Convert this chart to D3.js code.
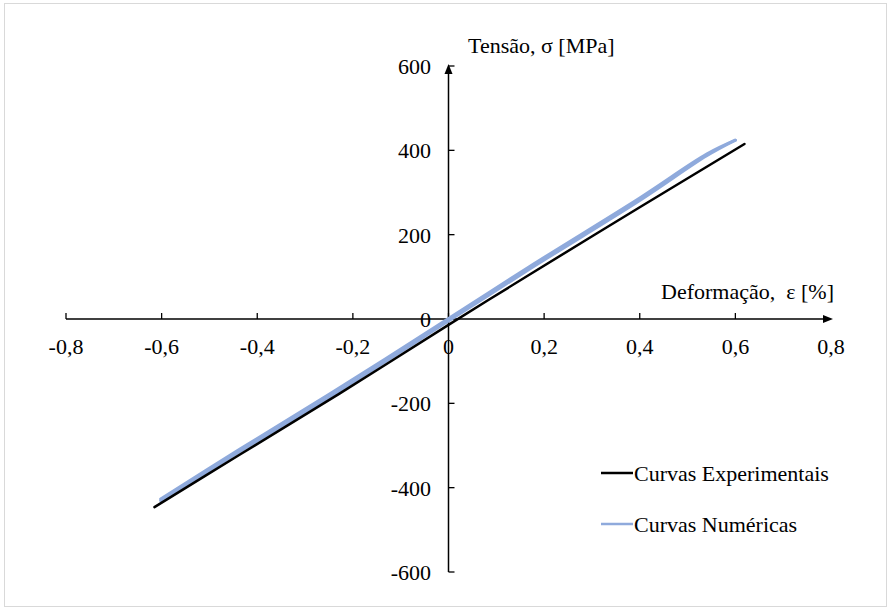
<!DOCTYPE html>
<html><head><meta charset="utf-8">
<script src="https://cdn.jsdelivr.net/npm/d3@7"></script>
<style>body{margin:0;background:#fff}svg{display:block}text{font-family:"Liberation Serif","Times New Roman",serif;fill:#000}</style>
</head><body><div id="chart"></div>
<script>
// ---- data ----
const xTicks = [-0.8,-0.6,-0.4,-0.2,0,0.2,0.4,0.6,0.8];
const xTickLabels = ["-0,8","-0,6","-0,4","-0,2","0","0,2","0,4","0,6","0,8"];
const yTicks = [-600,-400,-200,0,200,400,600];
const yTickLabels = ["-600","-400","-200","0","200","400","600"];
const expStrain = [-0.615,-0.437,-0.228,0,0.169,0.4,0.619];
const expStress = [-446,-322,-177,-14,105,265,415];
const numLoadStrain = [-0.602,-0.437,-0.228,0,0.169,0.4,0.54,0.6];
const numLoadStress = [-427,-309,-163,1,124,287,391,424];
const numUnloadStrain = [0.6,0.54,0.4,0.169,0,-0.228,-0.437,-0.602];
const numUnloadStress = [424,387,281,118,-5,-170,-315,-431];
const seriesNames = ["Curvas Experimentais","Curvas Numéricas"];
const colors = ["#000000","#8faadc"];

const W=891,H=611,FS=22;
const svg=d3.select("#chart").append("svg").attr("width",W).attr("height",H);
svg.append("rect").attr("x",4.5).attr("y",3.5).attr("width",882).attr("height",603)
  .attr("fill","#fff").attr("stroke","#d9d9d9").attr("stroke-width",1);

const x=d3.scaleLinear().domain([-0.8,0.8]).range([66,831]);
const y=d3.scaleLinear().domain([-600,600]).range([572,66]);

const x0=x(0), y0=y(0);
// x axis
svg.append("line").attr("x1",x(-0.8)).attr("x2",x(0.8)-4).attr("y1",y0).attr("y2",y0)
  .attr("stroke","#000").attr("stroke-width",1.5);
svg.append("path").attr("d",`M${x(0.8)+2},${y0} L${x(0.8)-8},${y0-4} L${x(0.8)-8},${y0+4} Z`).attr("fill","#000");
// y axis
svg.append("line").attr("x1",x0).attr("x2",x0).attr("y1",y(-600)).attr("y2",y(600)+4)
  .attr("stroke","#000").attr("stroke-width",1.5);
svg.append("path").attr("d",`M${x0},${y(600)-2} L${x0-4},${y(600)+8} L${x0+4},${y(600)+8} Z`).attr("fill","#000");

xTicks.forEach((t,i)=>{
  if(t!==0.8) svg.append("line").attr("x1",x(t)).attr("x2",x(t)).attr("y1",y0).attr("y2",y0-6).attr("stroke","#000").attr("stroke-width",1.3);
  svg.append("text").attr("x",x(t)).attr("y",y0+35).attr("text-anchor","middle").attr("font-size",FS).text(xTickLabels[i]);
});
yTicks.forEach((t,i)=>{
  svg.append("line").attr("x1",x0).attr("x2",x0+6).attr("y1",y(t)).attr("y2",y(t)).attr("stroke","#000").attr("stroke-width",1.3);
  svg.append("text").attr("x",431).attr("y",y(t)+8).attr("text-anchor","end").attr("font-size",FS).text(yTickLabels[i]);
});

svg.append("text").attr("x",468).attr("y",53).attr("font-size",FS).text("Tensão, σ [MPa]");
svg.append("text").attr("x",834).attr("y",299).attr("text-anchor","end").attr("font-size",FS).attr("xml:space","preserve").text("Deformação,  ε [%]");

const line=d3.line().x(d=>x(d[0])).y(d=>y(d[1])).curve(d3.curveCatmullRom);
const zip=(a,b)=>a.map((v,i)=>[v,b[i]]);
[[numLoadStrain,numLoadStress],[numUnloadStrain,numUnloadStress]].forEach(([a,b])=>{
  svg.append("path").datum(zip(a,b)).attr("d",line).attr("fill","none")
    .attr("stroke",colors[1]).attr("stroke-width",3).attr("stroke-linecap","round").attr("stroke-linejoin","round");
});
svg.append("path").datum(zip(expStrain,expStress)).attr("d",line).attr("fill","none")
  .attr("stroke",colors[0]).attr("stroke-width",2.5).attr("stroke-linecap","round").attr("stroke-linejoin","round");

const lg=[{y:473,ty:481},{y:524,ty:532}];
seriesNames.forEach((n,i)=>{
  svg.append("line").attr("x1",601).attr("x2",633).attr("y1",lg[i].y).attr("y2",lg[i].y)
    .attr("stroke",colors[i]).attr("stroke-width",2.5);
  svg.append("text").attr("x",634).attr("y",lg[i].ty).attr("font-size",FS).text(n);
});
</script></body></html>
